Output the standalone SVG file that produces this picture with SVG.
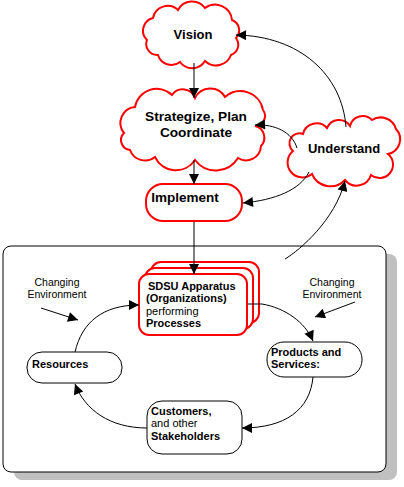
<svg xmlns="http://www.w3.org/2000/svg" width="404" height="487" viewBox="0 0 404 487">
<defs>
<style>
.cloud{fill:#fff;stroke:#f00;stroke-width:2}
.rbox{fill:#fff;stroke:#f00;stroke-width:2}
.bbox{fill:#fff;stroke:#000;stroke-width:1}
.conn{fill:none;stroke:#000;stroke-width:1;marker-end:url(#ah)}
.tb{font-family:"Liberation Sans",Arial,sans-serif;font-weight:bold;font-size:11px;fill:#000}
.tn{font-family:"Liberation Sans",Arial,sans-serif;font-size:11px;fill:#000}
.tc{font-family:"Liberation Sans",Arial,sans-serif;font-weight:bold;font-size:13px;fill:#000;text-anchor:middle}
.te{font-family:"Liberation Sans",Arial,sans-serif;font-size:10.5px;fill:#000;text-anchor:middle}
</style>
<marker id="ah" viewBox="0 0 10 10" refX="10" refY="5" markerWidth="13" markerHeight="10" markerUnits="userSpaceOnUse" orient="auto">
<path d="M0,0 L10,5 L0,10 z" fill="#000"/>
</marker>
</defs>
<rect width="404" height="487" fill="#fff"/>
<g id="system">
<rect x="14" y="254" width="383" height="226" rx="8" fill="#c0c0c0"/>
<rect x="3" y="246" width="383" height="226" rx="8" fill="#fff" stroke="#000" stroke-width="1"/>
</g>
<g id="vision">
<path class="cloud" d="M147,40 A13,13 0 0 1 153,18 A15,15 0 0 1 178,10 A16,16 0 0 1 205,8 A17,17 0 0 1 232,20 A11,11 0 0 1 236,38 A11,11 0 0 1 231,55 A16,16 0 0 1 205,61 A15,15 0 0 1 180,62 A14,14 0 0 1 158,55 A11,11 0 0 1 147,40 Z"/>
<text class="tc" x="193" y="39">Vision</text>
</g>
<g id="strategize">
<path class="cloud" d="M124,133 A16,16 0 0 1 135,107 A22,22 0 0 1 172,95 A13,13 0 0 1 195,98 A17,17 0 0 1 225,97 A23,23 0 0 1 263,110 A10,10 0 0 1 255,126 A12,12 0 0 1 261,146 A15,15 0 0 1 238,158 A26,26 0 0 1 195,160 A23,23 0 0 1 155,157 A16,16 0 0 1 130,150 A10,10 0 0 1 124,133 Z"/>
<text class="tc" x="196" y="121" style="font-size:13.7px">Strategize, Plan</text>
<text class="tc" x="196" y="137" style="font-size:13.7px">Coordinate</text>
</g>
<g id="understand">
<path class="cloud" d="M293,151 A10,10 0 0 1 303,134 A14,14 0 0 1 327,128 A13,13 0 0 1 350,126 A13,13 0 0 1 372,120 A16,16 0 0 1 396,129 A15,15 0 0 1 388,154 A12,12 0 0 1 371,175 A15,15 0 0 1 345,180 A20,20 0 0 1 312,174 A14,14 0 0 1 293,151 Z"/>
<text class="tc" x="344" y="153">Understand</text>
</g>
<g id="implement">
<rect class="rbox" x="146" y="184" width="96" height="37" rx="17"/>
<text class="tc" x="185" y="202" style="font-size:13.5px">Implement</text>
</g>
<g id="sdsu">
<rect class="rbox" x="151" y="262" width="108" height="61" rx="10"/>
<rect class="rbox" x="145" y="268" width="108" height="61" rx="10"/>
<rect class="rbox" x="139" y="274" width="108" height="61" rx="10"/>
<text class="tb" x="148" y="290">SDSU Apparatus</text>
<text class="tb" x="146" y="302">(Organizations)</text>
<text class="tn" x="146" y="315">performing</text>
<text class="tb" x="146" y="327">Processes</text>
</g>
<g id="resources">
<rect class="bbox" x="27" y="352" width="95" height="31" rx="15"/>
<text class="tb" x="32" y="368">Resources</text>
</g>
<g id="products">
<rect class="bbox" x="267" y="342" width="95" height="35" rx="17"/>
<text class="tb" x="271" y="356">Products and</text>
<text class="tb" x="271" y="368">Services:</text>
</g>
<g id="customers">
<rect class="bbox" x="147" y="401" width="95" height="53" rx="15"/>
<text class="tb" x="151" y="415">Customers,</text>
<text class="tn" x="151" y="427">and other</text>
<text class="tb" x="151" y="440">Stakeholders</text>
</g>
<g id="env-left">
<text class="te" x="57" y="286">Changing</text>
<text class="te" x="57" y="298">Environment</text>
</g>
<g id="env-right">
<text class="te" x="332" y="286">Changing</text>
<text class="te" x="332" y="298">Environment</text>
</g>
<g id="connectors">
<path class="conn" d="M194,63 L194,98"/>
<path class="conn" d="M194,160 L194,184"/>
<path class="conn" d="M194,222 L194,274"/>
<path class="conn" d="M346,127 C342,75 300,36 236,35"/>
<path class="conn" d="M297,148 C292,132 275,124 255,125"/>
<path class="conn" d="M309,172 C300,190 275,200 243,203"/>
<path class="conn" d="M285,259 C300,250 335,220 345,181"/>
<path class="conn" d="M75,352 C82,322 103,305 139,305"/>
<path class="conn" d="M248,304 L262,304 C285,308 305,322 313,341"/>
<path class="conn" d="M313,377 C310,410 285,428 242,428"/>
<path class="conn" d="M147,428 C110,428 85,410 75,384"/>
<path class="conn" d="M41,308 L78,320"/>
<path class="conn" d="M355,302 L315,317"/>
</g>
</svg>
